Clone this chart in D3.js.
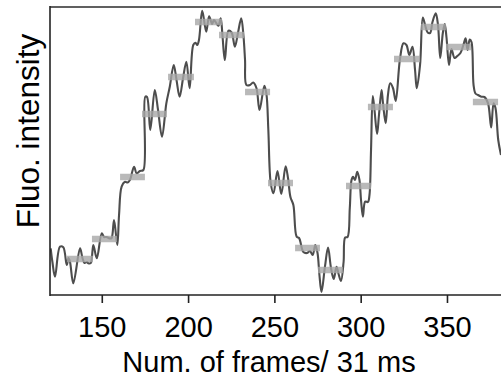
<!DOCTYPE html>
<html>
<head>
<meta charset="utf-8">
<script src="https://cdn.jsdelivr.net/npm/d3@7"></script>
<style>
  html, body { margin: 0; padding: 0; background: #fff; }
  svg { display: block; }
  text { font-family: "Liberation Sans", Arial, sans-serif; fill: #000; }
</style>
</head>
<body>
<svg id="chart" width="501" height="377"></svg>
<script>
// Frame number (x) of each sample of the trace
const frames = [120.4,121.4,122.9,125.8,127.7,129.7,130.7,131.6,133.5,137.4,138.8,140.0,141.4,142.2,143.6,145.1,147.1,150.0,151.3,152.7,154.8,155.7,157.1,159.0,160.0,161.5,163.5,164.9,166.3,168.7,170.2,172.1,174.1,175.2,176.2,178.1,180.7,182.6,184.9,187.4,189.4,191.7,193.3,195.1,197.1,199.0,200.9,203.0,204.3,205.3,206.3,208.2,210.5,212.2,213.9,215.0,217.5,218.9,219.9,221.3,223.4,225.2,227.1,228.9,230.8,232.1,233.0,233.8,235.9,237.7,239.6,241.4,244.2,245.4,246.5,247.9,249.5,251.8,254.0,256.5,257.9,259.3,261.0,262.9,264.3,266.8,268.9,270.6,272.2,273.7,275.0,276.1,277.3,279.3,281.1,282.8,284.4,286.0,287.2,288.6,290.1,291.0,292.4,293.7,294.7,295.6,296.7,298.0,299.3,300.2,301.3,302.6,304.2,305.1,306.0,307.0,308.0,309.5,310.6,312.1,312.9,314.5,315.8,317.1,318.7,320.3,322.7,324.8,326.5,328.2,330.0,331.5,332.5,334.4,336.0,337.3,338.8,340.2,341.6,343.5,344.8,346.1,347.6,348.7,349.7,351.2,352.6,354.4,356.0,357.8,359.5,360.8,361.9,363.2,364.2,365.4,366.5,368.0,369.9,371.7,373.8,375.6,377.0,378.1,379.7,381.3];
// Fluorescence intensity (arbitrary units) of each sample
const intensity = [46.7,33,18.3,48.3,47.7,30,37,33,11.7,46.7,37,32,33,31.7,32,50,36.7,61.7,58,58,56.5,57,75,50,80,108.3,113.3,112.5,115,128.3,121.7,124,125,198.3,198,165,205,185,158.3,191.7,208.3,230,215,198.3,217,233.3,206.7,250,252.3,250,255,284.2,263.3,278.7,271,275,269.2,276.7,260,235,264.2,262.5,248.3,262,276.7,259,235,210,210,212.5,207,185,209.2,201,165,111.7,101.7,124,101,128.7,117,98,90,58.3,57,43,42,44,40,50,42,20,3,28.3,47.5,27,16,28.3,21,14,33,57.5,58,87,115,118.3,115,123.3,115,95,78.3,93.3,93,100,145,199,185,161,180,205,192,171.7,200,211.7,207,194,235,251.7,250,240,248.3,225,206.7,230,277.5,270,262.5,262,273,281.7,270,237,262,271,258,230,246,237,239,242,250,256.7,245,255.4,253,210,201.5,200,198.3,198,191.7,167.5,191.7,187,155,140];

// Fitted step levels
const stepStart = [129.8,144.3,160.6,173.3,188.4,204.0,217.9,233.0,246.3,262.0,275.3,291.5,304.2,319.3,335.0,349.4,365.0];
const stepEnd   = [144.9,158.8,175.0,187.8,203.4,219.7,232.4,247.5,260.8,276.4,289.8,306.0,318.7,334.4,349.4,363.9,379.6];
const stepLevel = [36,56,118,181,218,273,260,203,112,47,25,109,188,236,268,248,193];

const xTicks = [150,200,250,300,350];
const xDomain = [120, 381.3];
const yDomain = [0, 288];

const svg = d3.select("#chart");
const pLeft = 50, pRight = 501, pTop = 7, pBottom = 295;

const x = d3.scaleLinear().domain(xDomain).range([pLeft, pRight]);
const y = d3.scaleLinear().domain(yDomain).range([pBottom, pTop]);

svg.append("defs").append("clipPath").attr("id", "clip")
  .append("rect").attr("x", pLeft).attr("y", pTop - 3).attr("width", pRight - pLeft).attr("height", pBottom - pTop + 3);

const pts = frames.map((f, i) => [f, intensity[i]]);
const line = d3.line().x(d => x(d[0])).y(d => y(d[1])).curve(d3.curveCatmullRom.alpha(0.5));

const plot = svg.append("g").attr("clip-path", "url(#clip)");
plot.append("path").datum(pts)
  .attr("d", line)
  .attr("fill", "none")
  .attr("stroke", "#4d4d4d")
  .attr("stroke-width", 2.1)
  .attr("stroke-linejoin", "round");

plot.selectAll("line.step").data(stepLevel).enter().append("line")
  .attr("class", "step")
  .attr("x1", (d, i) => x(stepStart[i]))
  .attr("x2", (d, i) => x(stepEnd[i]))
  .attr("y1", d => y(d))
  .attr("y2", d => y(d))
  .attr("stroke", "#a8a8a8")
  .attr("stroke-opacity", 0.8)
  .attr("stroke-width", 6.5);

// Frame lines
svg.append("line").attr("x1", pLeft).attr("x2", pRight).attr("y1", pTop).attr("y2", pTop)
  .attr("stroke", "#606060").attr("stroke-width", 2);
svg.append("line").attr("x1", pLeft).attr("x2", pLeft).attr("y1", pTop - 1).attr("y2", pBottom + 1)
  .attr("stroke", "#222").attr("stroke-width", 1.6);

const xAxis = svg.append("g").attr("transform", `translate(0,${pBottom})`)
  .call(d3.axisBottom(x).tickValues(xTicks).tickSize(8).tickSizeOuter(0).tickFormat(d3.format("d")));
xAxis.select(".domain").remove();
svg.append("line").attr("x1", pLeft).attr("x2", pRight).attr("y1", pBottom).attr("y2", pBottom)
  .attr("stroke", "#222").attr("stroke-width", 1.6);
xAxis.selectAll(".tick line").attr("stroke", "#222").attr("stroke-width", 1.6);
xAxis.selectAll(".tick text")
  .attr("y", 42).attr("dy", null)
  .style("font-size", "29px")
  .style("font-family", "'Liberation Sans', Arial, sans-serif")
  .attr("fill", "#000");

svg.append("text")
  .attr("x", 269).attr("y", 372)
  .attr("text-anchor", "middle")
  .style("font-size", "29px")
  .text("Num. of frames/ 31 ms");

svg.append("text")
  .attr("transform", "translate(39,131) rotate(-90)")
  .attr("text-anchor", "middle")
  .style("font-size", "31.5px")
  .text("Fluo. intensity");
</script>
</body>
</html>
